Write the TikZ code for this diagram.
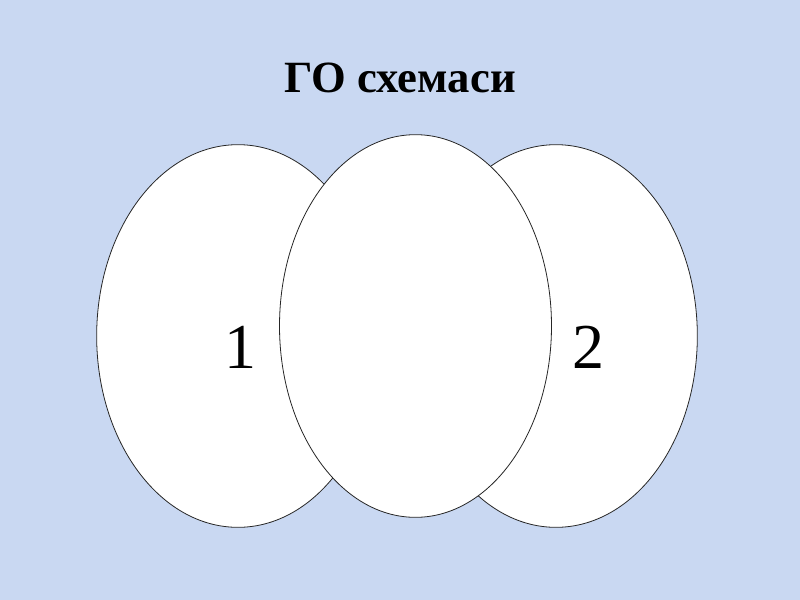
\documentclass[tikz,border=0pt]{standalone}
\usepackage{fontspec}
\setmainfont{Liberation Serif}
\usetikzlibrary{shapes.geometric, positioning}
\definecolor{slide}{RGB}{201,216,242}

\begin{document}
\begin{tikzpicture}[
    x=0.75pt, y=-0.75pt,
    oval/.style={ellipse, draw=black!85, fill=white, line width=0.6pt, inner sep=0pt},
    digit/.style={font=\fontsize{48}{48}\selectfont}
]
   % background
   \fill[slide] (0,0) rectangle (800,600);
   \useasboundingbox (0,0) rectangle (800,600);

   % Title
   \node[font=\fontsize{33.5}{34}\selectfont\bfseries] (title) at (400,78) {ГО схемаси};

   % Ellipses
   \node[oval, minimum width=212pt, minimum height=287pt] (left) at (238,336) {};
   \node[oval, minimum width=212pt, minimum height=287pt] (right) at (556,336) {};
   \node[oval, minimum width=204pt, minimum height=287pt] (mid) at (415.5,326) {};

   % Labels
   \node[digit] (one) at (240,347) {1};
   \node[digit] (two) at (588,347) {2};
\end{tikzpicture}
\end{document}
